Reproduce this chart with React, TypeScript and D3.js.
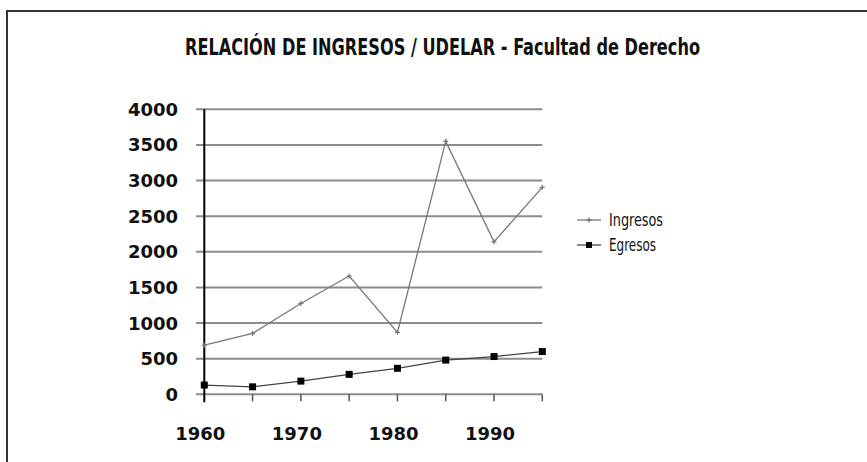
import { useEffect, useRef } from "react";
import * as d3 from "d3";

const years = [1960, 1965, 1970, 1975, 1980, 1985, 1990, 1995];
const ingresos = [690, 855, 1275, 1660, 870, 3550, 2140, 2905];
const egresos = [130, 105, 185, 280, 365, 480, 530, 600];
const yTicks = [0, 500, 1000, 1500, 2000, 2500, 3000, 3500, 4000];
const xLabels = [1960, 1970, 1980, 1990];

export default function App() {
  const svgRef = useRef<SVGSVGElement | null>(null);

  useEffect(() => {
    const svg = d3.select(svgRef.current);
    const width = 867;
    const height = 462;
    svg.selectAll("*").remove();
    svg.attr("width", width).attr("height", height);

    svg.append("rect").attr("width", width).attr("height", height).attr("fill", "#fff");

    // frame (only top and left edges are visible)
    svg.append("path")
      .attr("d", `M7,${height} V11 H${width}`)
      .attr("fill", "none")
      .attr("stroke", "#333")
      .attr("stroke-width", 2);

    svg.append("text")
      .attr("x", 185)
      .attr("y", 55)
      .attr("textLength", 515)
      .attr("lengthAdjust", "spacingAndGlyphs")
      .style("font-family", "'DejaVu Sans Condensed', sans-serif")
      .style("font-stretch", "condensed")
      .style("font-weight", "bold")
      .style("font-size", "23px")
      .attr("fill", "#111")
      .text("RELACIÓN DE INGRESOS / UDELAR - Facultad de Derecho");

    const x = d3.scaleLinear().domain([1960, 1995]).range([204.3, 542.3]);
    const y = d3.scaleLinear().domain([0, 4000]).range([394.3, 109.3]);

    // gridlines
    svg.append("g")
      .selectAll("line")
      .data(yTicks)
      .enter()
      .append("line")
      .attr("x1", 196)
      .attr("x2", x(1995))
      .attr("y1", (d) => y(d))
      .attr("y2", (d) => y(d))
      .attr("stroke", "#8c8c8c")
      .attr("stroke-width", 2);

    // y labels
    svg.append("g")
      .selectAll("text")
      .data(yTicks)
      .enter()
      .append("text")
      .attr("x", 178)
      .attr("y", (d) => y(d) + 6.5)
      .attr("text-anchor", "end")
      .style("font-family", "'DejaVu Sans', sans-serif")
      .style("font-weight", "bold")
      .style("font-size", "18px")
      .attr("fill", "#111")
      .text((d) => String(d));

    // x ticks
    svg.append("g")
      .selectAll("line")
      .data(years.slice(1))
      .enter()
      .append("line")
      .attr("x1", (d) => x(d))
      .attr("x2", (d) => x(d))
      .attr("y1", y(0))
      .attr("y2", y(0) + 7)
      .attr("stroke", "#555")
      .attr("stroke-width", 1.5);

    // y axis
    svg.append("line")
      .attr("x1", x(1960))
      .attr("x2", x(1960))
      .attr("y1", y(4000))
      .attr("y2", y(0) + 8)
      .attr("stroke", "#000")
      .attr("stroke-width", 2);

    svg.append("g")
      .selectAll("text")
      .data(xLabels)
      .enter()
      .append("text")
      .attr("x", (d) => x(d) - 4)
      .attr("y", 440)
      .attr("text-anchor", "middle")
      .style("font-family", "'DejaVu Sans', sans-serif")
      .style("font-weight", "bold")
      .style("font-size", "18px")
      .attr("fill", "#111")
      .text((d) => String(d));

    const line = d3.line<number>()
      .x((_, i) => x(years[i]))
      .y((d) => y(d));

    svg.append("path")
      .datum(ingresos)
      .attr("d", line)
      .attr("fill", "none")
      .attr("stroke", "#777")
      .attr("stroke-width", 1.3);

    svg.append("g")
      .selectAll("path")
      .data(ingresos)
      .enter()
      .append("path")
      .attr("d", (d, i) => `M${x(years[i]) - 2.5},${y(d)}h5M${x(years[i])},${y(d) - 2.5}v5`)
      .attr("stroke", "#777")
      .attr("stroke-width", 1.3);

    svg.append("path")
      .datum(egresos)
      .attr("d", line)
      .attr("fill", "none")
      .attr("stroke", "#444")
      .attr("stroke-width", 1.3);

    svg.append("g")
      .selectAll("rect")
      .data(egresos)
      .enter()
      .append("rect")
      .attr("x", (_, i) => x(years[i]) - 3.5)
      .attr("y", (d) => y(d) - 3.5)
      .attr("width", 7)
      .attr("height", 7)
      .attr("fill", "#000");

    // legend
    const legend = [
      { name: "Ingresos", color: "#777", marker: "plus", ly: 220, w: 54 },
      { name: "Egresos", color: "#444", marker: "square", ly: 245, w: 47 },
    ];
    const lg = svg.append("g");
    legend.forEach((l) => {
      lg.append("line")
        .attr("x1", 577)
        .attr("x2", 601)
        .attr("y1", l.ly)
        .attr("y2", l.ly)
        .attr("stroke", l.color)
        .attr("stroke-width", 1.3);
      if (l.marker === "plus") {
        lg.append("path")
          .attr("d", `M586.5,${l.ly}h5M589,${l.ly - 2.5}v5`)
          .attr("stroke", l.color)
          .attr("stroke-width", 1.3);
      } else {
        lg.append("rect")
          .attr("x", 586)
          .attr("y", l.ly - 3)
          .attr("width", 6)
          .attr("height", 6)
          .attr("fill", "#000");
      }
      lg.append("text")
        .attr("x", 609)
        .attr("y", l.ly + 6)
        .attr("textLength", l.w)
        .attr("lengthAdjust", "spacingAndGlyphs")
        .style("font-family", "'DejaVu Sans Condensed', sans-serif")
        .style("font-stretch", "condensed")
        .style("font-size", "17px")
        .attr("fill", "#111")
        .text(l.name);
    });
  }, []);

  return (
    <div style={{ position: "fixed", left: 0, top: 0 }}>
      <svg ref={svgRef} style={{ display: "block" }} />
    </div>
  );
}
